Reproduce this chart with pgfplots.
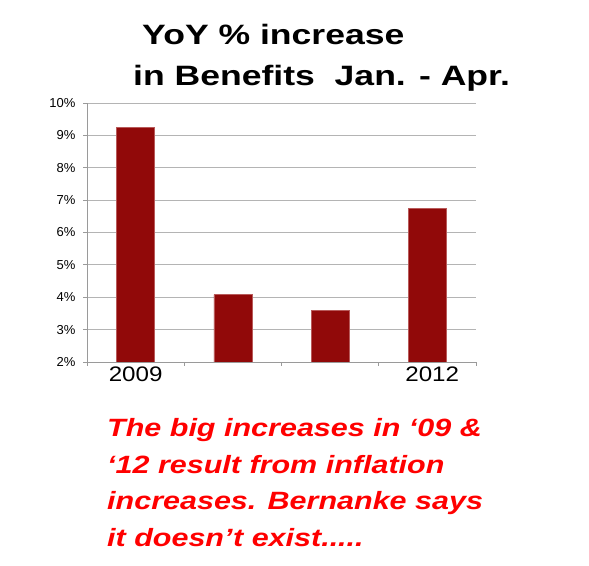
\documentclass[border=0pt]{standalone}
\usepackage{fontspec}
\setmainfont{Liberation Sans}
\usepackage{graphicx}
\usepackage{pgfplots}
\pgfplotsset{compat=1.18}
\definecolor{barred}{HTML}{910909}
\definecolor{baredge}{HTML}{B85A5A}
\definecolor{gridgray}{HTML}{B4B4B4}
\definecolor{axisgray}{HTML}{9A9A9A}
\definecolor{textred}{HTML}{FF0000}
\begin{document}
\begin{tikzpicture}
\path[use as bounding box] (0pt,0pt) rectangle (589pt,565pt);
\begin{axis}[
  at={(87pt,203pt)}, anchor=south west,
  scale only axis, width=389pt, height=259pt,
  xmin=-0.5, xmax=3.5, ymin=2, ymax=10,
  ybar, bar width=38pt,
  axis x line*=bottom, axis y line*=left,
  axis line style={axisgray, line width=0.8pt, -},
  tick pos=left, tick align=outside,
  major tick length=4pt,
  tick style={axisgray, line width=0.8pt},
  ymajorgrids, grid style={gridgray, line width=0.8pt},
  ytick={2,3,...,10},
  /pgf/number format/assume math mode=true,
  yticklabel={\pgfmathprintnumber{\tick}\%},
  yticklabel style={font=\fontsize{13}{13}\selectfont, xshift=-4pt},
  xtick={-0.5,0.5,1.5,2.5,3.5},
  xticklabels={},
  extra x ticks={0,3.05},
  extra x tick labels={\scalebox{1.15}[1]{2009},\scalebox{1.15}[1]{2012}},
  extra x tick style={major tick length=0pt,
    xticklabel style={font=\fontsize{21}{21}\selectfont, yshift=-1.5pt}},
]
\addplot[fill=barred, draw=baredge, line width=0.6pt] coordinates {(0,9.24) (1,4.08) (2,3.60) (3,6.74)};
\end{axis}
\node[anchor=base west, inner sep=0pt] at (142pt,520.7pt)
  {\scalebox{1.27}[1]{\fontsize{28}{28}\selectfont\bfseries YoY \% increase}};
\node[anchor=base west, inner sep=0pt] at (133pt,479.3pt)
  {\scalebox{1.27}[1]{\fontsize{28}{28}\selectfont\bfseries in Benefits\ \ Jan. - Apr.}};
\begin{scope}[every node/.style={anchor=base west, inner sep=0pt, text=textred}]
\node at (107pt,128pt) {\scalebox{1.22}[1]{\fontsize{25}{25}\selectfont\bfseries\itshape The big increases in ‘09 \&}};
\node at (107pt,91.5pt) {\scalebox{1.22}[1]{\fontsize{25}{25}\selectfont\bfseries\itshape ‘12 result from inflation}};
\node at (107pt,55pt) {\scalebox{1.22}[1]{\fontsize{25}{25}\selectfont\bfseries\itshape increases. Bernanke says}};
\node at (107pt,18.5pt) {\scalebox{1.22}[1]{\fontsize{25}{25}\selectfont\bfseries\itshape it doesn’t exist.....}};
\end{scope}
\end{tikzpicture}
\end{document}
